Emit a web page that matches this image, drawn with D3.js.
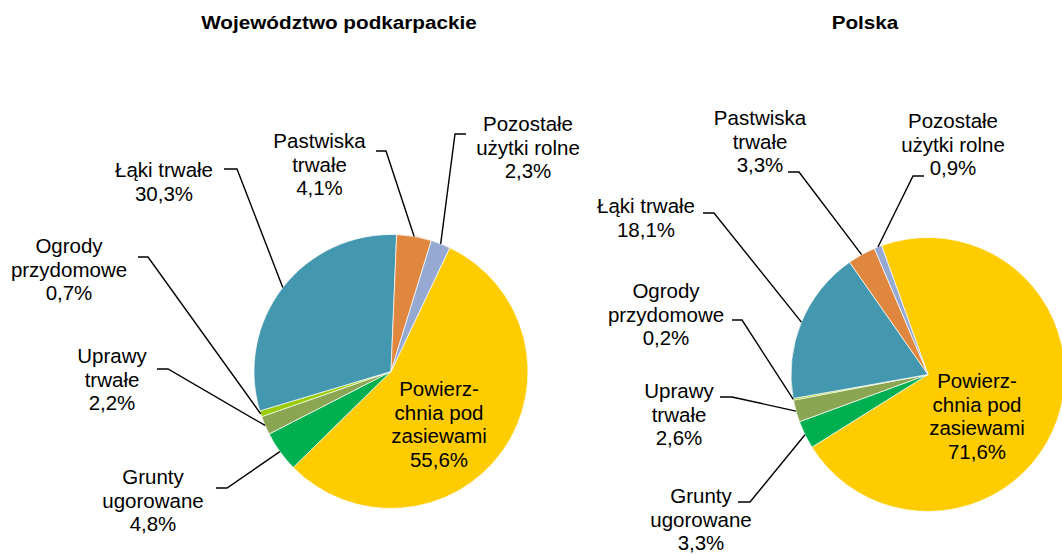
<!DOCTYPE html>
<html>
<head>
<meta charset="utf-8">
<script src="https://cdn.jsdelivr.net/npm/d3@7/dist/d3.min.js"></script>
<style>
    body { margin: 0; background: #ffffff; }
    svg { display: block; font-family: "Liberation Sans", Arial, sans-serif; }
    .title { font-weight: bold; font-size: 19px; }
    .label { font-size: 20.5px; fill: #000000; }
    .leader { fill: none; stroke: #000000; stroke-width: 1.4px; }
</style>
</head>
<body>
<div id="chart"><svg id="graph-svg"></svg></div>
<script>

// data
var categories = [
    'Powierzchnia pod zasiewami', 'Grunty ugorowane', 'Uprawy trwałe',
    'Ogrody przydomowe', 'Łąki trwałe', 'Pastwiska trwałe', 'Pozostałe użytki rolne'
];
var label_lines = [
    ['Powierz-', 'chnia pod', 'zasiewami'],
    ['Grunty', 'ugorowane'],
    ['Uprawy', 'trwałe'],
    ['Ogrody', 'przydomowe'],
    ['Łąki trwałe'],
    ['Pastwiska', 'trwałe'],
    ['Pozostałe', 'użytki rolne']
];
var podkarpackie = [55.6, 4.8, 2.2, 0.7, 30.3, 4.1, 2.3];
var polska = [71.6, 3.3, 2.6, 0.2, 18.1, 3.3, 0.9];
var titles = ['Województwo podkarpackie', 'Polska'];

var colors = ['#ffcc00', '#00b050', '#8ba652', '#99cc00', '#4397ae', '#df873f', '#95a9d3'];

// layout: label block centre x, first baseline y, leader elbow (x near text, x of elbow, y)
var layout_left = [
    {x: 439, y: 396},
    {x: 153, y: 484, hx1: 216, hx2: 227, hy: 488},
    {x: 112, y: 363, hx1: 157, hx2: 168, hy: 369},
    {x: 69, y: 253, hx1: 138, hx2: 148, hy: 257},
    {x: 164, y: 177, hx1: 224, hx2: 237, hy: 169},
    {x: 319.5, y: 148, hx1: 376, hx2: 386, hy: 151},
    {x: 528, y: 131, hx1: 466, hx2: 455, hy: 134}
];
var layout_right = [
    {x: 977, y: 388},
    {x: 701, y: 503, hx1: 738, hx2: 750, hy: 502},
    {x: 679, y: 398, hx1: 720, hx2: 732, hy: 397},
    {x: 666, y: 298, hx1: 732, hx2: 742, hy: 320},
    {x: 646, y: 213, hx1: 703, hx2: 714, hy: 213},
    {x: 760, y: 125, hx1: 788, hx2: 799, hy: 172},
    {x: 953, y: 128, hx1: 924, hx2: 913, hy: 176}
];

var line_height = 23.6;

var fmt = function(v) {
    return v.toFixed(1).replace('.', ',') + '%';
};

var draw_pie = function(svg, values, opts) {
    var start = opts.start * Math.PI / 180;
    var pie = d3.pie()
        .sort(null)
        .value(function(d) { return d; })
        .startAngle(start)
        .endAngle(start + 2 * Math.PI);

    var arc = d3.arc().innerRadius(0).outerRadius(opts.r);
    var edge = d3.arc().innerRadius(opts.r).outerRadius(opts.r);

    var arcs = pie(values);

    var g = svg.append('g')
        .attr('transform', 'translate(' + opts.cx + ', ' + opts.cy + ')');

    g.selectAll('path')
        .data(arcs)
        .enter()
        .append('path')
        .attr('d', arc)
        .style('fill', function(d, i) { return colors[i]; })
        .style('stroke', '#ffffff')
        .style('stroke-width', 0.7);

    // leader lines
    arcs.forEach(function(d, i) {
        var l = opts.layout[i];
        if (l.hx1 === undefined) return;
        var p = edge.centroid(d);
        var pts = [
            [l.hx1, l.hy],
            [l.hx2, l.hy],
            [opts.cx + p[0], opts.cy + p[1]]
        ];
        svg.append('path')
            .attr('class', 'leader')
            .attr('d', d3.line()(pts));
    });

    // labels
    arcs.forEach(function(d, i) {
        var l = opts.layout[i];
        var lines = label_lines[i].concat([fmt(values[i])]);
        var text = svg.append('text')
            .attr('class', 'label')
            .attr('text-anchor', 'middle');
        lines.forEach(function(s, k) {
            text.append('tspan')
                .attr('x', l.x)
                .attr('y', l.y + k * line_height)
                .text(s);
        });
    });

    svg.append('text')
        .attr('class', 'title')
        .attr('text-anchor', 'middle')
        .attr('transform', 'translate(' + opts.tx + ', 28.5) scale(1.09, 1)')
        .text(opts.title);
};

var run = function() {
    var svg = d3.select('svg#graph-svg')
        .attr('width', 1062)
        .attr('height', 554);

    draw_pie(svg, podkarpackie, {
        cx: 391, cy: 371.5, r: 137, start: 25.4,
        layout: layout_left, title: titles[0], tx: 339
    });
    draw_pie(svg, polska, {
        cx: 928, cy: 374.5, r: 137, start: -19.8,
        layout: layout_right, title: titles[1], tx: 865
    });
};

run();
</script>
</body>
</html>
